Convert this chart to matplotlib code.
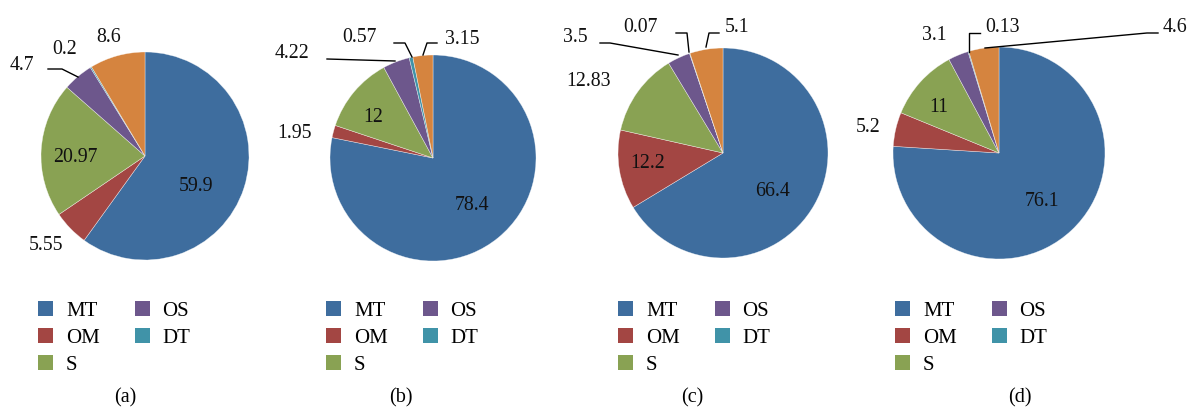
import matplotlib
matplotlib.use("Agg")
import matplotlib.pyplot as plt
from matplotlib.patches import Patch
from matplotlib.lines import Line2D

W, H = 1189, 408
plt.rcParams['font.family'] = ['Liberation Serif', 'DejaVu Serif']

# ---- data ----
categories = ["MT", "OM", "S", "OS", "DT", "Other"]
legend_categories = ["MT", "OM", "S", "OS", "DT"]
values_a = [59.9, 5.55, 20.97, 4.7, 0.2, 8.6]
values_b = [78.4, 1.95, 12, 4.22, 0.57, 3.15]
values_c = [66.4, 12.2, 12.83, 3.5, 0.07, 5.1]
values_d = [76.1, 5.2, 11, 3.1, 0.13, 4.6]
panel_titles = ["(a)", "(b)", "(c)", "(d)"]

colors = ["#3E6D9E", "#A34643", "#89A253", "#6D578C", "#4093A8", "#D5843F"]

# ---- layout (pixels, y from top) ----
pies = [
    dict(vals=values_a, c=(145, 156), r=104,
         lab=[(196, 187), (46, 246), (75, 158), (22, 65), (65, 50), (109, 38)],
         lines=[[(48, 69), (62, 69), (78, 77)]],
         leg=(39, 308), cap=(125, 398)),
    dict(vals=values_b, c=(433, 158), r=103,
         lab=[(472, 206), (295, 133), (373, 117), (292, 54), (360, 38), (462, 40)],
         lines=[[(327, 59), (395, 61)],
                [(394, 43), (405, 43), (412, 57)],
                [(437, 43), (427, 43), (423, 55)]],
         leg=(327, 308), cap=(401, 398)),
    dict(vals=values_c, c=(723, 153), r=105,
         lab=[(773, 192), (648, 163), (589, 82), (575, 38), (641, 27), (737, 27)],
         lines=[[(600, 43), (610, 43), (678, 55)],
                [(676, 33), (687, 33), (689, 52)],
                [(719, 33), (709, 33), (706, 47)]],
         leg=(619, 308), cap=(692, 398)),
    dict(vals=values_d, c=(999, 153), r=106,
         lab=[(1042, 202), (868, 127), (939, 107), (934, 36), (1003, 27), (1175, 27)],
         lines=[[(980, 33), (969, 33), (969, 52)],
                [(1158, 33), (1147, 33), (985, 48)]],
         leg=(896, 308), cap=(1020, 398)),
]

fig = plt.figure(figsize=(W / 100, H / 100), dpi=100)

def fx(x):
    return x / W

def fy(y):
    return 1 - y / H

handles = [Patch(facecolor=colors[i], edgecolor='none', label=legend_categories[i])
           for i in range(len(legend_categories))]

for p, title in zip(pies, panel_titles):
    cx, cy = p["c"]
    r = p["r"]
    ax = fig.add_axes([fx(cx - r), fy(cy + r), 2 * r / W, 2 * r / H])
    ax.pie(p["vals"], colors=colors, startangle=90, counterclock=False,
           wedgeprops=dict(edgecolor=(1, 1, 1, 0.6), linewidth=0.4))
    ax.set_xlim(-1, 1)
    ax.set_ylim(-1, 1)
    ax.set_aspect('equal')
    ax.axis('off')
    for v, (lx, ly) in zip(p["vals"], p["lab"]):
        fig.text(fx(lx), fy(ly), f"{v:g}", ha='center', va='center', fontsize=14.3,
                 color='#111111')
    for pts in p["lines"]:
        xs = [fx(q[0]) for q in pts]
        ys = [fy(q[1]) for q in pts]
        fig.add_artist(Line2D(xs, ys, transform=fig.transFigure, color='black', lw=1.0))
    lx, ly = p["leg"]
    fig.legend(handles=handles, loc='upper left', ncol=2,
               bbox_to_anchor=(fx(lx - 1), fy(ly - 7)), frameon=False,
               fontsize=15, handlelength=0.72, handleheight=0.72,
               handletextpad=0.62, columnspacing=1.68, labelspacing=0.36,
               borderpad=0, borderaxespad=0)
    fig.text(fx(p["cap"][0]), fy(p["cap"][1]), title, ha='center', va='center',
             fontsize=14.5)

fig.savefig("out.png", dpi=100)
